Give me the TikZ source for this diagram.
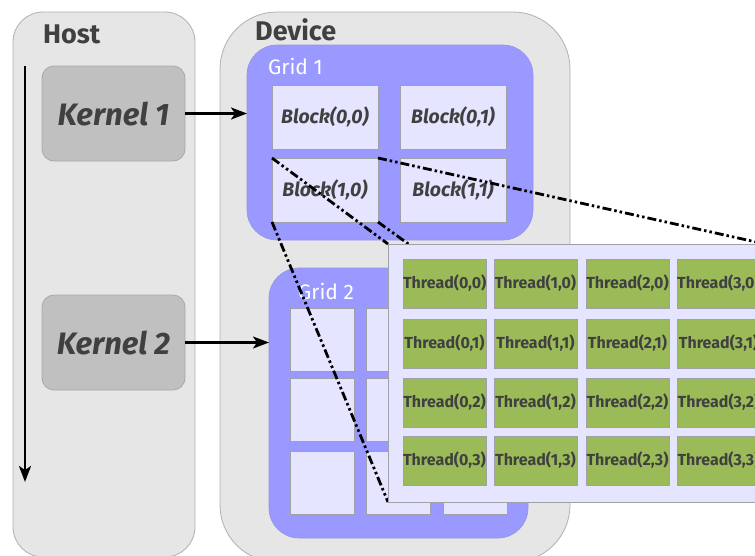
\documentclass[tikz,border=0pt]{standalone}
\usepackage{fontspec}
\setmainfont{Fira Sans}
\usetikzlibrary{arrows.meta}
\usetikzlibrary{positioning}
\usepackage{xcolor}
\definecolor{panelgray}{HTML}{E6E6E6}
\definecolor{edgegray}{HTML}{B0B0B0}
\definecolor{gridblue}{HTML}{9999FF}
\definecolor{blockfill}{HTML}{E5E5FF}
\definecolor{blockedge}{HTML}{A0A0A8}
\definecolor{kernelfill}{HTML}{C0C0C0}
\definecolor{kerneledge}{HTML}{A8A8A8}
\definecolor{inkgray}{HTML}{404040}
\definecolor{threadgreen}{HTML}{9BBB59}

\begin{document}
\begin{tikzpicture}[x=1pt,y=-1pt]
    \useasboundingbox (0,0) rectangle (755,555);
    \clip (0,0) rectangle (755,555);
    \tikzset{
      box/.style={inner sep=0pt,outer sep=0pt,anchor=north west},
      panel/.style={box,draw=edgegray,fill=panelgray,line width=0.8pt,rounded corners=30pt},
      grid/.style={box,fill=gridblue,draw=gridblue!80!gray,line width=0.6pt,rounded corners=30pt},
      kernel/.style={box,draw=kerneledge,fill=kernelfill,line width=0.8pt,rounded corners=12pt,
        minimum width=143,minimum height=95,text=inkgray,
        font=\fontsize{31}{31}\selectfont\bfseries\itshape},
      blockbox/.style={box,draw=blockedge,fill=blockfill,line width=0.8pt,
        minimum width=106,minimum height=64,text=inkgray,
        font=\fontsize{19.5}{19.5}\selectfont\bfseries\itshape},
      subbox/.style={box,draw=blockedge,fill=blockfill,line width=0.8pt,
        minimum width=64,minimum height=63},
      thread/.style={box,draw=blockedge,fill=threadgreen,line width=0.8pt,
        minimum width=83,minimum height=49,text=inkgray,
        font=\fontsize{16}{16}\selectfont\bfseries},
      title/.style={anchor=west,inner sep=0pt,text=inkgray,font=\fontsize{27}{27}\selectfont\bfseries},
      gridtitle/.style={anchor=west,inner sep=0pt,text=white,font=\fontsize{21}{21}\selectfont},
      flow/.style={line width=2.4pt,-{Stealth[length=16pt,width=12pt,inset=4pt]}},
      zoomline/.style={line width=2.8pt,dash pattern=on 9pt off 3pt on 2.5pt off 3pt on 2.5pt off 3pt}
    }
    % host and device
    \node[panel,minimum width=182,minimum height=545] (host) at (13,12) {};
    \node[panel,rounded corners=57pt,minimum width=350,minimum height=550] (device) at (220,12) {};
    \node[title] (hostname) at (43,34) {Host};
    \node[title] (devicename) at (255,30) {Device};
    % kernels
    \node[kernel] (k1) at (42,66) {Kernel 1};
    \node[kernel] (k2) at (42,295) {Kernel 2};
    \coordinate (tstart) at (25,66);
    \coordinate (tend) at (25,482);
    \draw[flow] (tstart) -- (tend);
    % grid 1
    \node[grid,minimum width=286,minimum height=195] (grid1) at (247,45) {};
    \node[gridtitle] (grid1name) at (268,66) {Grid 1};
    \node[blockbox] (b00) at (272,85) {Block(0,0)};
    \node[blockbox] (b01) at (400,85) {Block(0,1)};
    \node[blockbox] (b10) at (272,158) {Block(1,0)};
    \node[blockbox] (b11) at (400,158) {Block(1,1)};
    % grid 2
    \node[grid,minimum width=259,minimum height=270] (grid2) at (269,268) {};
    \node[gridtitle] (grid2name) at (298,291) {Grid 2};
    \node[subbox] (c00) at (290,308) {};
    \node[subbox] (c01) at (366,308) {};
    \node[subbox] (c02) at (443,308) {};
    \node[subbox] (c10) at (290,378) {};
    \node[subbox] (c11) at (366,378) {};
    \node[subbox] (c12) at (443,378) {};
    \node[subbox] (c20) at (290,451) {};
    \node[subbox] (c21) at (366,451) {};
    \node[subbox] (c22) at (443,451) {};
    % kernel launches
    \draw[flow] (k1.east) -- (k1.east -| grid1.west);
    \draw[flow] (k2.east) -- (k2.east -| grid2.west);
    % zoom into block (1,0)
    \coordinate (pnw) at (388,244);
    \coordinate (pne) at (765,244);
    \coordinate (psw) at (388,502);
    \coordinate (pse) at (765,502);
    \draw[zoomline] (b10.north west) -- (pnw);
    \draw[zoomline] (b10.south west) -- (psw);
    \draw[zoomline] (b10.north east) -- (pne);
    \draw[zoomline] (b10.south east) -- (pse);
    \node[box,draw=blockedge,fill=blockfill,line width=0.8pt,minimum width=377,minimum height=258] (threads) at (pnw) {};
    \node[thread] (t00) at (403,259) {Thread(0,0)};
    \node[thread] (t10) at (494,259) {Thread(1,0)};
    \node[thread] (t20) at (586,259) {Thread(2,0)};
    \node[thread] (t30) at (677,259) {Thread(3,0)};
    \node[thread] (t01) at (403,319) {Thread(0,1)};
    \node[thread] (t11) at (494,319) {Thread(1,1)};
    \node[thread] (t21) at (586,319) {Thread(2,1)};
    \node[thread] (t31) at (677,319) {Thread(3,1)};
    \node[thread] (t02) at (403,378) {Thread(0,2)};
    \node[thread] (t12) at (494,378) {Thread(1,2)};
    \node[thread] (t22) at (586,378) {Thread(2,2)};
    \node[thread] (t32) at (677,378) {Thread(3,2)};
    \node[thread] (t03) at (403,436) {Thread(0,3)};
    \node[thread] (t13) at (494,436) {Thread(1,3)};
    \node[thread] (t23) at (586,436) {Thread(2,3)};
    \node[thread] (t33) at (677,436) {Thread(3,3)};
\end{tikzpicture}
\end{document}
